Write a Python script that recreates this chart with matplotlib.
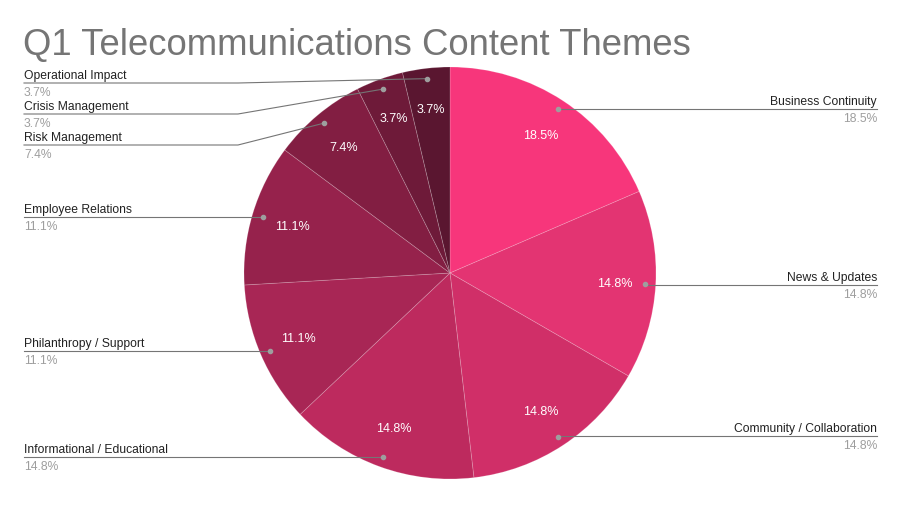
import numpy as np
import matplotlib.pyplot as plt

plt.rcParams['font.family'] = ['Liberation Sans', 'DejaVu Sans']

# data
themes = ['Business Continuity', 'News & Updates', 'Community / Collaboration',
          'Informational / Educational', 'Philanthropy / Support',
          'Employee Relations', 'Risk Management', 'Crisis Management',
          'Operational Impact']
counts = [5, 4, 4, 4, 3, 3, 2, 1, 1]
colors = ['#F7367B', '#E33472', '#D02F68', '#BD2A5E', '#A82655',
          '#96224C', '#821E42', '#6E1A39', '#5A1630']

# layout (pixels from top) for the outside labels
label_y = [110, 286, 437, 458, 352, 218, 146, 115, 84]
elbow_x = 238

W, H = 903, 506
fig = plt.figure(figsize=(W / 100, H / 100), dpi=100)
ax = fig.add_axes([0, 0, 1, 1])
ax.set_xlim(0, W)
ax.set_ylim(0, H)
ax.set_aspect('equal')
ax.axis('off')

cx, cy, R = 450, H - 274, 206
total = sum(counts)
wedges, _, autotexts = ax.pie(counts, colors=colors, startangle=90, counterclock=False,
                              center=(cx, cy), radius=R, autopct='%1.1f%%', pctdistance=0.8,
                              wedgeprops=dict(edgecolor=(1, 1, 1, 0.2), linewidth=0.6),
                              textprops=dict(color='white', fontsize=9))
ax.set_xlim(0, W)
ax.set_ylim(0, H)

line_col = '#757575'
for w, name, c, ly in zip(wedges, themes, counts, label_y):
    mid = np.deg2rad((w.theta1 + w.theta2) / 2)
    dx, dy = cx + 0.95 * R * np.cos(mid), cy + 0.95 * R * np.sin(mid)
    yy = H - ly
    pct = f'{100 * c / total:.1f}%'
    ax.plot(dx, dy, 'o', ms=3, color='#9e9e9e', zorder=5)
    if dx > cx:
        ax.plot([dx, 877], [yy, yy], color=line_col, lw=0.8)
        ax.text(877, yy + 2, name, ha='right', va='bottom', fontsize=8.7, color='#222222')
        ax.text(877, yy - 3, pct, ha='right', va='top', fontsize=8.7, color='#9e9e9e')
    else:
        if abs(yy - dy) > 2:
            ax.plot([24, elbow_x, dx], [yy, yy, dy], color=line_col, lw=0.8)
        else:
            ax.plot([24, dx], [yy, yy], color=line_col, lw=0.8)
        ax.text(24, yy + 2, name, ha='left', va='bottom', fontsize=8.7, color='#222222')
        ax.text(24, yy - 3, pct, ha='left', va='top', fontsize=8.7, color='#9e9e9e')

ax.text(23, H - 55, 'Q1 Telecommunications Content Themes', fontsize=26.3,
        color='#757575', ha='left', va='baseline')

fig.savefig('out.png', dpi=100, facecolor='white')
